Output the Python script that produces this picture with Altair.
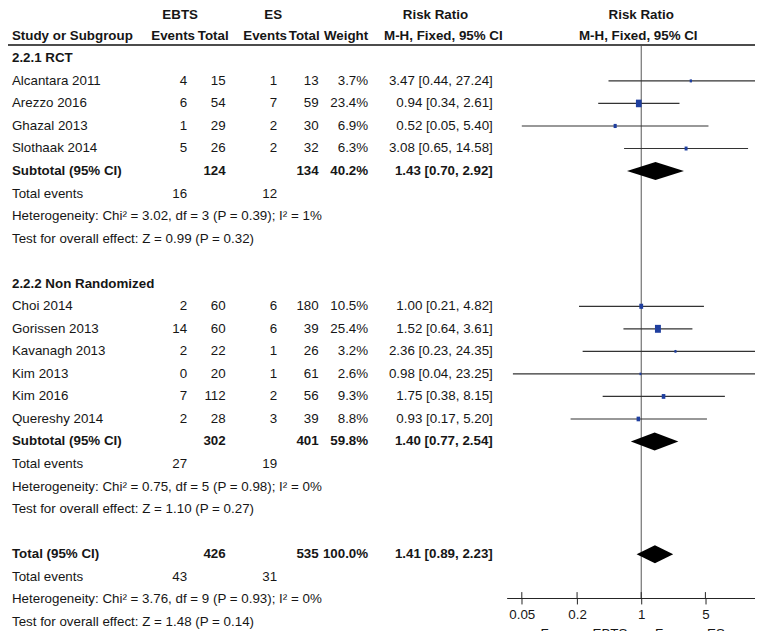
import altair as alt
import pandas as pd

# ---------------- data ----------------
studies = ["Alcantara 2011", "Arezzo 2016", "Ghazal 2013", "Slothaak 2014",
           "Choi 2014", "Gorissen 2013", "Kavanagh 2013", "Kim 2013", "Kim 2016", "Quereshy 2014"]
group_titles = ["2.2.1 RCT", "2.2.2 Non Randomized"]
group_sizes = [4, 6]
ebts_events = [4, 6, 1, 5, 2, 14, 2, 0, 7, 2]
ebts_total = [15, 54, 29, 26, 60, 60, 22, 20, 112, 28]
es_events = [1, 7, 2, 2, 6, 6, 1, 1, 2, 3]
es_total = [13, 59, 30, 32, 180, 39, 26, 61, 56, 39]
weight = [3.7, 23.4, 6.9, 6.3, 10.5, 25.4, 3.2, 2.6, 9.3, 8.8]
rr = [3.47, 0.94, 0.52, 3.08, 1.00, 1.52, 2.36, 0.98, 1.75, 0.93]
rr_lo = [0.44, 0.34, 0.05, 0.65, 0.21, 0.64, 0.23, 0.04, 0.38, 0.17]
rr_hi = [27.24, 2.61, 5.40, 14.58, 4.82, 3.61, 24.35, 23.25, 8.15, 5.20]

sub_labels = ["Subtotal (95% CI)", "Subtotal (95% CI)", "Total (95% CI)"]
sub_ebts_total = [124, 302, 426]
sub_es_total = [134, 401, 535]
sub_weight = [40.2, 59.8, 100.0]
sub_rr = [1.43, 1.40, 1.41]
sub_lo = [0.70, 0.77, 0.89]
sub_hi = [2.92, 2.54, 2.23]
tot_ebts_events = [16, 27, 43]
tot_es_events = [12, 19, 31]
het_text = ["Heterogeneity: Chi² = 3.02, df = 3 (P = 0.39); I² = 1%",
            "Heterogeneity: Chi² = 0.75, df = 5 (P = 0.98); I² = 0%",
            "Heterogeneity: Chi² = 3.76, df = 9 (P = 0.93); I² = 0%"]
effect_text = ["Test for overall effect: Z = 0.99 (P = 0.32)",
               "Test for overall effect: Z = 1.10 (P = 0.27)",
               "Test for overall effect: Z = 1.48 (P = 0.14)"]
axis_ticks = [0.05, 0.2, 1, 5, 20]
favours = ["Favours EBTS", "Favours ES"]

# ---------------- layout / style ----------------
FONT = "Liberation Sans, Arial, sans-serif"
FS = 13.5
W, H = 755, 593
TXT = "#161616"
BLUE = "#1f3f9f"
DIAMOND_HALF = 0.4   # half-height of a summary diamond, in row units

# column key -> (x pixel, align, dy)
COLS = {
    "study": (4, "left", 0), "e_ev": (181, "right", 0), "e_tot": (220, "right", 0),
    "c_ev": (272, "right", 0), "c_tot": (314, "right", 0), "weight": (364, "right", 0),
    "ci": (490, "right", 0),
    "h_ebts": (174, "center", 2), "h_es": (268, "center", 2),
    "h_rr1": (432, "center", 2), "h_rr2": (640, "center", 2),
    "h_e_ev": (189, "right", 0), "h_e_tot": (223, "right", 0), "h_c_ev": (282, "right", 0),
    "h_c_tot": (315, "right", 0), "h_weight": (364, "right", 0),
    "h_ci1": (440, "center", 0), "h_ci2": (637, "center", 0),
}

# ---------------- build tables ----------------
cells, forest, diam = [], [], []


def add(r, col, text, bold=False):
    cells.append(dict(row=r, col=col, text=str(text), bold=bold))


def ci_str(a, b, c):
    return f"{a:.2f} [{b:.2f}, {c:.2f}]"


def add_summary(r, s):
    add(r, "study", sub_labels[s], True)
    add(r, "e_tot", sub_ebts_total[s], True)
    add(r, "c_tot", sub_es_total[s], True)
    add(r, "weight", f"{sub_weight[s]:.1f}%", True)
    add(r, "ci", ci_str(sub_rr[s], sub_lo[s], sub_hi[s]), True)
    # diamond: zero height at the CI ends, full height at the estimate
    for x, f in [(sub_lo[s], 0), (sub_rr[s], 1), (sub_hi[s], 0)]:
        diam.append(dict(g=s, x=x, top=r - f * DIAMOND_HALF, bot=r + f * DIAMOND_HALF))


def add_footer(r, s):
    add(r, "study", "Total events")
    add(r, "e_ev", tot_ebts_events[s])
    add(r, "c_ev", tot_es_events[s])
    add(r + 1, "study", het_text[s])
    add(r + 2, "study", effect_text[s])


# header rows
add(0, "h_ebts", "EBTS", True)
add(0, "h_es", "ES", True)
add(0, "h_rr1", "Risk Ratio", True)
add(0, "h_rr2", "Risk Ratio", True)
add(1, "study", "Study or Subgroup", True)
add(1, "h_e_ev", "Events", True)
add(1, "h_e_tot", "Total", True)
add(1, "h_c_ev", "Events", True)
add(1, "h_c_tot", "Total", True)
add(1, "h_weight", "Weight", True)
add(1, "h_ci1", "M-H, Fixed, 95% CI", True)
add(1, "h_ci2", "M-H, Fixed, 95% CI", True)

row = 2
k = 0
for g in range(2):
    add(row, "study", group_titles[g], True)
    row += 1
    for _ in range(group_sizes[g]):
        add(row, "study", studies[k])
        add(row, "e_ev", ebts_events[k])
        add(row, "e_tot", ebts_total[k])
        add(row, "c_ev", es_events[k])
        add(row, "c_tot", es_total[k])
        add(row, "weight", f"{weight[k]:.1f}%")
        add(row, "ci", ci_str(rr[k], rr_lo[k], rr_hi[k]))
        forest.append(dict(row=row, rr=rr[k], lo=rr_lo[k], hi=rr_hi[k], w=weight[k]))
        k += 1
        row += 1
    add_summary(row, g)
    row += 1
    add_footer(row, g)
    row += 4
add_summary(row, 2)
row += 1
add_footer(row, 2)
last_row = row + 2

cells_df = pd.DataFrame(cells)
forest_df = pd.DataFrame(forest)
diam_df = pd.DataFrame(diam)
ticks_df = pd.DataFrame({"v": [t for t in axis_ticks if t <= 17]})
one_df = pd.DataFrame({"v": [1]})
fav_df = pd.DataFrame({"v": [1, 1], "label": favours})

ROW_STEP = 22.78
ys = alt.Scale(domain=[0, last_row], range=[2, 2 + ROW_STEP * last_row], nice=False, zero=False)
xs = alt.Scale(type="log", domain=[0.0342, 17.35], range=[504, W], nice=False)
XAX = alt.Axis(values=axis_ticks, format="~g", title=None, grid=False, tickSize=6,
               labelPadding=4, labelFlush=False, labelOverlap=False, labelBound=False,
               domainColor="#222222", tickColor="#222222", labelColor=TXT,
               labelFont=FONT, labelFontSize=FS, domainWidth=1, tickWidth=1)

layers = []

# table text
for key, (xpx, align, dy) in COLS.items():
    for bold in (True, False):
        sub = cells_df[(cells_df.col == key) & (cells_df.bold == bold)]
        if len(sub) == 0:
            continue
        layers.append(
            alt.Chart(sub).mark_text(align=align, baseline="middle", font=FONT, fontSize=FS,
                                     fontWeight="bold" if bold else "normal", color=TXT, dy=dy)
            .encode(x=alt.value(xpx), y=alt.Y("row:Q", scale=ys, axis=None), text="text:N")
        )

# header separator line
layers.append(
    alt.Chart(one_df).mark_rule(color="#111111", strokeWidth=1.5)
    .encode(x=alt.value(0), x2=alt.value(W), y=alt.value(34))
)

# vertical line of no effect
layers.append(
    alt.Chart(one_df).mark_rule(color="#555555", strokeWidth=1)
    .encode(x=alt.X("v:Q", scale=xs, axis=XAX), y=alt.value(35), y2=alt.value(H))
)

# confidence intervals
layers.append(
    alt.Chart(forest_df).mark_rule(color="#333333", strokeWidth=1.2, clip=True)
    .encode(x=alt.X("lo:Q", scale=xs, axis=XAX), x2="hi:Q",
            y=alt.Y("row:Q", scale=ys, axis=None))
)

# weight squares
layers.append(
    alt.Chart(forest_df).mark_point(shape="M-0.75,-1L0.75,-1L0.75,1L-0.75,1Z", filled=True,
                                    color=BLUE, opacity=1, strokeWidth=0)
    .encode(x=alt.X("rr:Q", scale=xs, axis=XAX),
            y=alt.Y("row:Q", scale=ys, axis=None),
            size=alt.Size("w:Q", scale=alt.Scale(domain=[0, 25.4], range=[0, 64]), legend=None))
)

# summary diamonds (straight-edged area between top and bottom outlines)
layers.append(
    alt.Chart(diam_df).mark_area(color="black", opacity=1, orient="vertical", interpolate="linear")
    .encode(x=alt.X("x:Q", scale=xs, axis=XAX),
            y=alt.Y("top:Q", scale=ys, axis=None, stack=None),
            y2="bot:Q",
            detail="g:N")
)

# upper halves of the axis ticks
layers.append(
    alt.Chart(ticks_df).mark_rule(color="#222222", strokeWidth=1)
    .encode(x=alt.X("v:Q", scale=xs, axis=XAX), y=alt.value(H - 6), y2=alt.value(H))
)

# favours labels (cut by the lower edge, as in the reference)
for i, (al, dx) in enumerate([("right", -14), ("left", 14)]):
    layers.append(
        alt.Chart(fav_df.iloc[[i]]).mark_text(align=al, baseline="middle", dx=dx, font=FONT,
                                              fontSize=FS, color=TXT)
        .encode(x=alt.X("v:Q", scale=xs, axis=XAX), y=alt.value(629), text="label:N")
    )

chart = (
    alt.layer(*layers)
    .resolve_scale(size="independent")
    .properties(width=W, height=H,
                autosize=alt.AutoSizeParams(type="none"),
                padding={"left": 0, "top": 0, "right": 0, "bottom": 30},
                background="white")
    .configure_view(stroke=None)
)

chart.save("out.html", embed_options={"renderer": "svg", "actions": False})
